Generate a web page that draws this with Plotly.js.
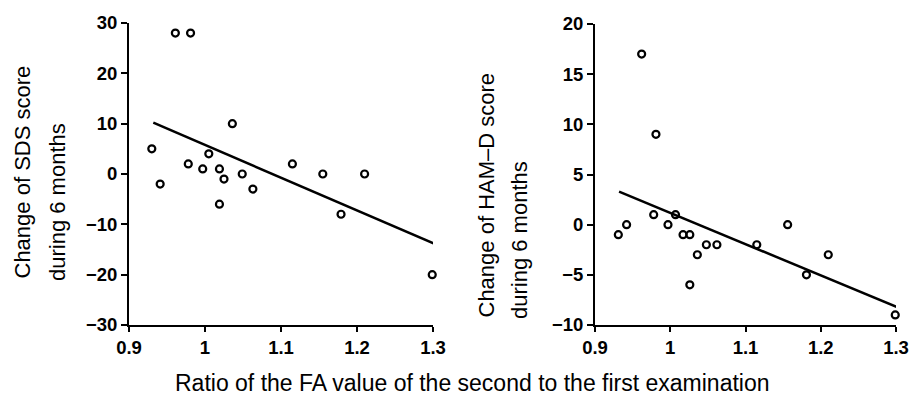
<!DOCTYPE html>
<html>
<head>
<meta charset="utf-8">
<script src="https://cdn.plot.ly/plotly-3.0.1.min.js"></script>
<style>
html,body{margin:0;padding:0;background:#fff;}
#chart{width:917px;height:395px;}
</style>
</head>
<body>
<div id="chart"></div>
<script>
// Data
const faRatioSDS = [0.930, 0.941, 0.961, 0.981, 0.978, 0.997, 1.005, 1.019, 1.019, 1.025, 1.036, 1.049, 1.063, 1.115, 1.155, 1.179, 1.210, 1.299];
const sdsChange  = [5, -2, 28, 28, 2, 1, 4, 1, -6, -1, 10, 0, -3, 2, 0, -8, 0, -20];
const sdsFitX = [0.932, 1.301];
const sdsFitY = [10.2, -13.8];

const faRatioHAM = [0.931, 0.942, 0.962, 0.981, 0.978, 0.997, 1.007, 1.017, 1.026, 1.026, 1.036, 1.048, 1.062, 1.115, 1.156, 1.181, 1.210, 1.299];
const hamChange  = [-1, 0, 17, 9, 1, 0, 1, -1, -1, -6, -3, -2, -2, -2, 0, -5, -3, -9];
const hamFitX = [0.932, 1.301];
const hamFitY = [3.3, -8.2];

const xTickVals = [0.9, 1.0, 1.1, 1.2, 1.3];
const sdsTickVals = [-30, -20, -10, 0, 10, 20, 30];
const hamTickVals = [-10, -5, 0, 5, 10, 15, 20];

const yTitleSDS = ["Change of SDS score", "during 6 months"];
const yTitleHAM = ["Change of HAM\u2013D score", "during 6 months"];
const xTitle = "Ratio of the FA value of the second to the first examination";

const W = 917, H = 395;
const tickFont = {family: "Liberation Sans, Arial, sans-serif", size: 18.5, color: "#000", weight: "bold"};
const yTitleFont = {family: "Liberation Sans, Arial, sans-serif", size: 22, color: "#000"};
const xTitleFont = {family: "Liberation Sans, Arial, sans-serif", size: 23, color: "#000"};

const markerStyle = {symbol: "circle-open", size: 7, color: "#000", line: {width: 2.2, color: "#000"}};
const lineStyle = {color: "#000", width: 2.5};

const traces = [
  {x: faRatioSDS, y: sdsChange, mode: "markers", type: "scatter", marker: markerStyle, xaxis: "x", yaxis: "y", cliponaxis: false},
  {x: sdsFitX, y: sdsFitY, mode: "lines", type: "scatter", line: lineStyle, xaxis: "x", yaxis: "y"},
  {x: faRatioHAM, y: hamChange, mode: "markers", type: "scatter", marker: markerStyle, xaxis: "x2", yaxis: "y2", cliponaxis: false},
  {x: hamFitX, y: hamFitY, mode: "lines", type: "scatter", line: lineStyle, xaxis: "x2", yaxis: "y2"}
];

function xAxis(domain, anchor) {
  return {
    domain: domain, anchor: anchor, range: [0.9, 1.3],
    tickvals: xTickVals, ticks: "outside", ticklen: 5, tickwidth: 2, tickcolor: "#000",
    showline: true, linecolor: "#000", linewidth: 2, showgrid: false, zeroline: false,
    tickfont: tickFont, fixedrange: true
  };
}
function yAxis(domain, anchor, range, vals) {
  return {
    domain: domain, anchor: anchor, range: range,
    tickvals: vals, ticks: "outside", ticklen: 6, tickwidth: 2, tickcolor: "#000",
    showline: true, linecolor: "#000", linewidth: 2, showgrid: false, zeroline: false,
    tickfont: tickFont, fixedrange: true
  };
}

function yTitleAnn(text, xPx, bottomPx) {
  return {text: text, xref: "paper", yref: "paper", x: xPx / W, y: 1 - bottomPx / H,
          xanchor: "center", yanchor: "bottom", textangle: -90, showarrow: false, font: yTitleFont};
}

const layout = {
  width: W, height: H,
  margin: {l: 0, r: 0, t: 0, b: 0},
  paper_bgcolor: "#fff", plot_bgcolor: "#fff",
  showlegend: false,
  xaxis: xAxis([129 / W, 433 / W], "y"),
  yaxis: yAxis([1 - 325 / H, 1 - 23 / H], "x", [-30, 30], sdsTickVals),
  xaxis2: xAxis([595 / W, 896 / W], "y2"),
  yaxis2: yAxis([1 - 325 / H, 1 - 24 / H], "x2", [-10, 20], hamTickVals),
  annotations: [
    yTitleAnn(yTitleSDS[0], 22, 281),
    yTitleAnn(yTitleSDS[1], 57, 283),
    yTitleAnn(yTitleHAM[0], 486, 319),
    yTitleAnn(yTitleHAM[1], 519, 321),
    {text: xTitle, xref: "paper", yref: "paper", x: 472 / W, y: 1 - 383 / H, xanchor: "center", yanchor: "middle",
     showarrow: false, font: xTitleFont}
  ]
};

Plotly.newPlot("chart", traces, layout, {displayModeBar: false, staticPlot: true});
</script>
</body>
</html>
